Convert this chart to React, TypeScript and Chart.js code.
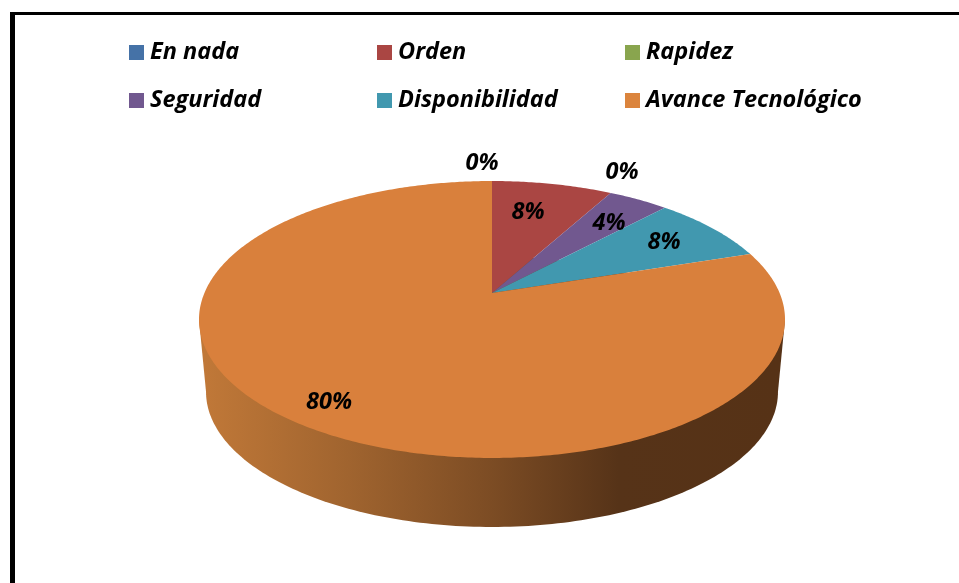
import { useEffect, useRef } from "react";
import { Chart, registerables } from "chart.js";

Chart.register(...registerables);

const categories = ["En nada", "Orden", "Rapidez", "Seguridad", "Disponibilidad", "Avance Tecnológico"];
const seriesValues = [0, 8, 0, 4, 8, 80];
const sliceColors = ["#4572A7", "#AA4643", "#89A54E", "#71588F", "#4198AF", "#D9803C"];
const legendColors = ["#4572A7", "#AA4643", "#89A54E", "#71588F", "#4198AF", "#DB843D"];

// Label anchors relative to the pie's apex (text only).
const labelOffsets: [number, number][] = [
  [-10, -130],
  [36, -81],
  [130, -121],
  [117, -70],
  [172, -51],
  [-163, 109],
];

const FONT = "italic bold 23.5px 'Open Sans'";
const W = 959;
const H = 583;

// Perspective of the tilted disc
const K = 0.1913;
const SQUASH = 0.4638;
const DEPTH = 73;
const BASE_SCALE = 0.976;

function project(cx: number, cy: number, r: number, angle: number) {
  const u = Math.cos(angle);
  const v = -Math.sin(angle);
  const d = 1 + K * v;
  return { x: cx + (r * u) / d, y: cy - (r * SQUASH * v) / d };
}

function drawSlice(this: any, ctx: CanvasRenderingContext2D) {
  const { x, y, startAngle, endAngle, outerRadius } = this.getProps(["x", "y", "startAngle", "endAngle", "outerRadius"]);
  if (endAngle - startAngle <= 0) return;
  ctx.save();
  ctx.beginPath();
  ctx.moveTo(x, y);
  const steps = Math.max(4, Math.ceil((endAngle - startAngle) * 90));
  for (let i = 0; i <= steps; i++) {
    const p = project(x, y, outerRadius, startAngle + ((endAngle - startAngle) * i) / steps);
    ctx.lineTo(p.x, p.y);
  }
  ctx.closePath();
  ctx.fillStyle = this.options.backgroundColor;
  ctx.fill();
  ctx.restore();
}

const pie3d = {
  id: "pie3d",
  beforeDatasetsDraw(chart: any) {
    const meta = chart.getDatasetMeta(0);
    const arcs = meta.data;
    arcs.forEach((a: any) => (a.draw = drawSlice));
    const { x, y, outerRadius: r } = arcs[arcs.length - 1];
    const ctx: CanvasRenderingContext2D = chart.ctx;
    const grad = ctx.createLinearGradient(x - r, 0, x + r, 0);
    grad.addColorStop(0, "#C07838");
    grad.addColorStop(0.25, "#A0642F");
    grad.addColorStop(0.5, "#7C4C24");
    grad.addColorStop(0.72, "#563318");
    grad.addColorStop(1, "#563216");
    ctx.save();
    ctx.fillStyle = grad;
    ctx.beginPath();
    const yy = y + DEPTH;
    for (let i = 0; i <= 360; i++) {
      const p = project(x, yy, r * BASE_SCALE, (i * Math.PI) / 180);
      if (i === 0) ctx.moveTo(p.x, p.y);
      else ctx.lineTo(p.x, p.y);
    }
    ctx.closePath();
    ctx.fill();
    const tx = r / Math.sqrt(1 - K * K);
    const ty = (r * SQUASH * K) / (1 - K * K);
    const bx = tx * BASE_SCALE;
    const by = ty * BASE_SCALE + DEPTH;
    ctx.beginPath();
    ctx.moveTo(x - tx, y + ty);
    ctx.lineTo(x + tx, y + ty);
    ctx.lineTo(x + bx, y + by);
    ctx.lineTo(x - bx, y + by);
    ctx.closePath();
    ctx.fill();
    ctx.restore();
  },
  afterDatasetsDraw(chart: any) {
    const ctx: CanvasRenderingContext2D = chart.ctx;
    const arcs = chart.getDatasetMeta(0).data;
    const { x, y } = arcs[0];
    ctx.save();
    ctx.font = FONT;
    ctx.fillStyle = "#000";
    ctx.textAlign = "center";
    ctx.textBaseline = "middle";
    seriesValues.forEach((v, i) => {
      const [dx, dy] = labelOffsets[i];
      ctx.fillText(`${v}%`, x + dx, y + dy);
    });
    ctx.restore();
  },
};

const gridLegend = {
  id: "gridLegend",
  afterDraw(chart: any) {
    const ctx: CanvasRenderingContext2D = chart.ctx;
    ctx.save();
    ctx.font = FONT;
    ctx.textBaseline = "middle";
    ctx.textAlign = "left";
    categories.forEach((name, i) => {
      const col = i % 3;
      const row = Math.floor(i / 3);
      const x = 129 + col * 248;
      const y = 45 + row * 48;
      ctx.fillStyle = legendColors[i];
      ctx.fillRect(x, y, 15, 15);
      ctx.fillStyle = "#000";
      ctx.fillText(name, x + 21, y + 7.5);
    });
    ctx.restore();
  },
};

export default function App() {
  const ref = useRef<HTMLCanvasElement>(null);
  useEffect(() => {
    const chart = new Chart(ref.current!, {
      type: "pie",
      data: {
        labels: categories,
        datasets: [{ data: seriesValues, backgroundColor: sliceColors, borderWidth: 0, hoverOffset: 0 }],
      },
      options: {
        animation: false,
        responsive: false,
        events: [],
        layout: { padding: { left: 204.4, right: 179.4, top: 5.4, bottom: 2.4 } },
        plugins: { legend: { display: false }, tooltip: { enabled: false } },
      },
      plugins: [pie3d, gridLegend],
    } as any);
    return () => chart.destroy();
  }, []);
  return (
    <div style={{ position: "fixed", left: 0, top: 0, width: W, height: H, background: "#fff", overflow: "hidden" }}>
      <div
        style={{
          position: "absolute",
          left: 10,
          top: 12,
          right: 0,
          bottom: 0,
          borderTop: "3px solid #000",
          borderLeft: "5px solid #000",
        }}
      />
      <canvas ref={ref} width={W} height={H} style={{ position: "absolute", left: 0, top: 0, display: "block" }} />
    </div>
  );
}
